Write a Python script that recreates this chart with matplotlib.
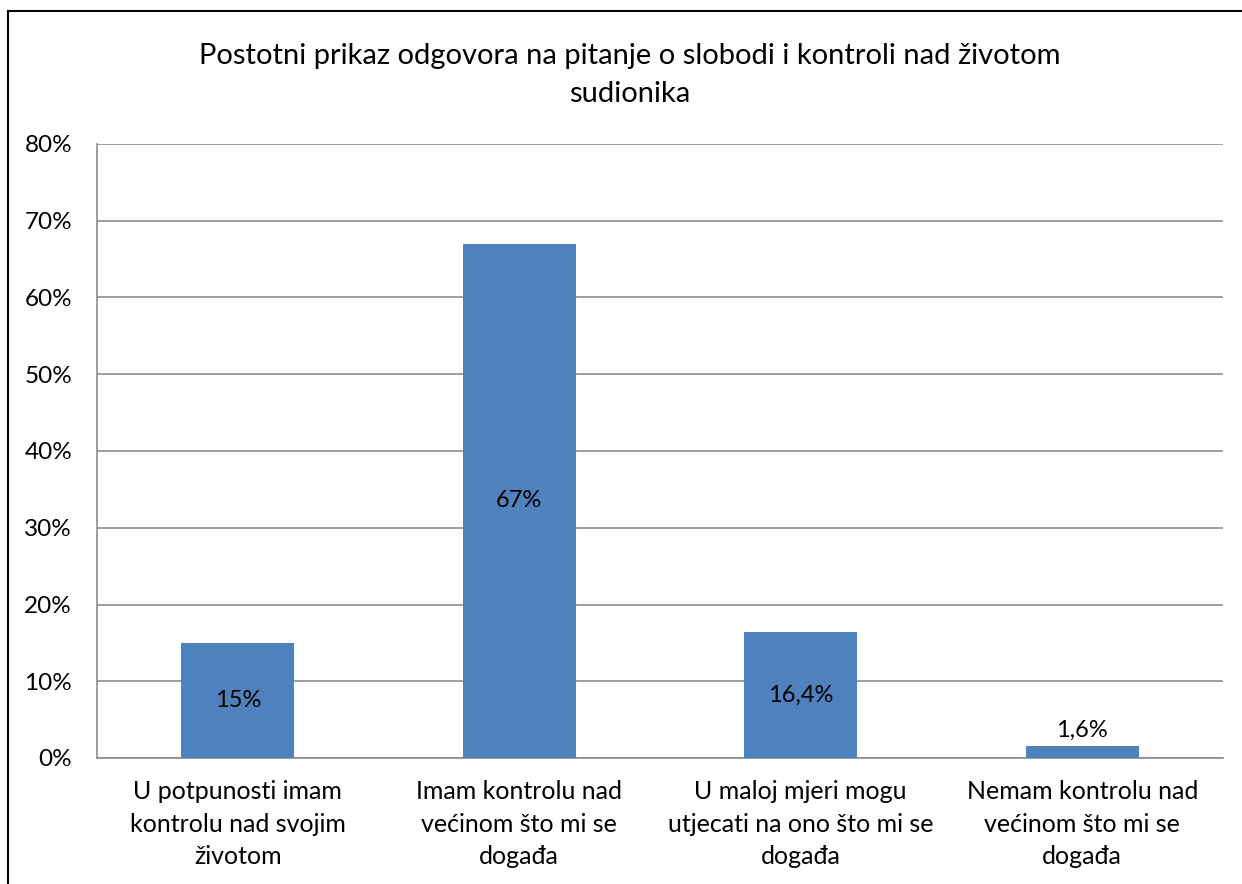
import matplotlib
matplotlib.use("Agg")
import matplotlib.pyplot as plt
from matplotlib.lines import Line2D

categories = ["U potpunosti imam\nkontrolu nad svojim\nživotom",
              "Imam kontrolu nad\nvećinom što mi se\ndogađa",
              "U maloj mjeri mogu\nutjecati na ono što mi se\ndogađa",
              "Nemam kontrolu nad\nvećinom što mi se\ndogađa"]
values = [15, 67, 16.4, 1.6]
value_labels = ["15%", "67%", "16,4%", "1,6%"]
yticks = [0, 10, 20, 30, 40, 50, 60, 70, 80]
title = "Postotni prikaz odgovora na pitanje o slobodi i kontroli nad životom\nsudionika"

plt.rcParams['font.family'] = ['Lato', 'DejaVu Sans']
W, H = 1242, 884
fig = plt.figure(figsize=(W/100, H/100), dpi=100)
ax = fig.add_axes([97/W, 1-758/H, (1223-97)/W, (758-144)/H])

x = range(len(values))
bars = ax.bar(x, values, width=0.4, color="#4F81BD", zorder=3)
ax.set_xlim(-0.5, len(values)-0.5)
ax.set_ylim(0, 80)
ax.set_yticks(yticks)
ax.set_yticklabels([f"{t}%" for t in yticks], fontsize=17.5)
ax.set_xticks(list(x))
ax.set_xticklabels(categories, fontsize=18, linespacing=1.5)
ax.tick_params(length=0)
ax.tick_params(axis='x', pad=16)
ax.tick_params(axis='y', pad=18)
ax.grid(axis='y', color="#8c8c8c", linewidth=1.2, zorder=0)
for s in ["top", "right"]:
    ax.spines[s].set_visible(False)
for s in ["left", "bottom"]:
    ax.spines[s].set_color("#8c8c8c")
    ax.spines[s].set_linewidth(1.2)

for i, (v, lab) in enumerate(zip(values, value_labels)):
    if v > 5:
        ax.text(i, v/2, lab, ha="center", va="center", fontsize=17, zorder=4)
    else:
        ax.text(i, v + 0.6, lab, ha="center", va="bottom", fontsize=17, zorder=4)

fig.text(630/W, 1-75/H, title, ha="center", va="center", fontsize=21, linespacing=1.55)

fig.add_artist(Line2D([8/W, 8/W], [0, 1-11/H], color="black", linewidth=1.5, transform=fig.transFigure))
fig.add_artist(Line2D([8/W, 1], [1-11/H, 1-11/H], color="black", linewidth=1.5, transform=fig.transFigure))

fig.savefig("out.png", dpi=100)
